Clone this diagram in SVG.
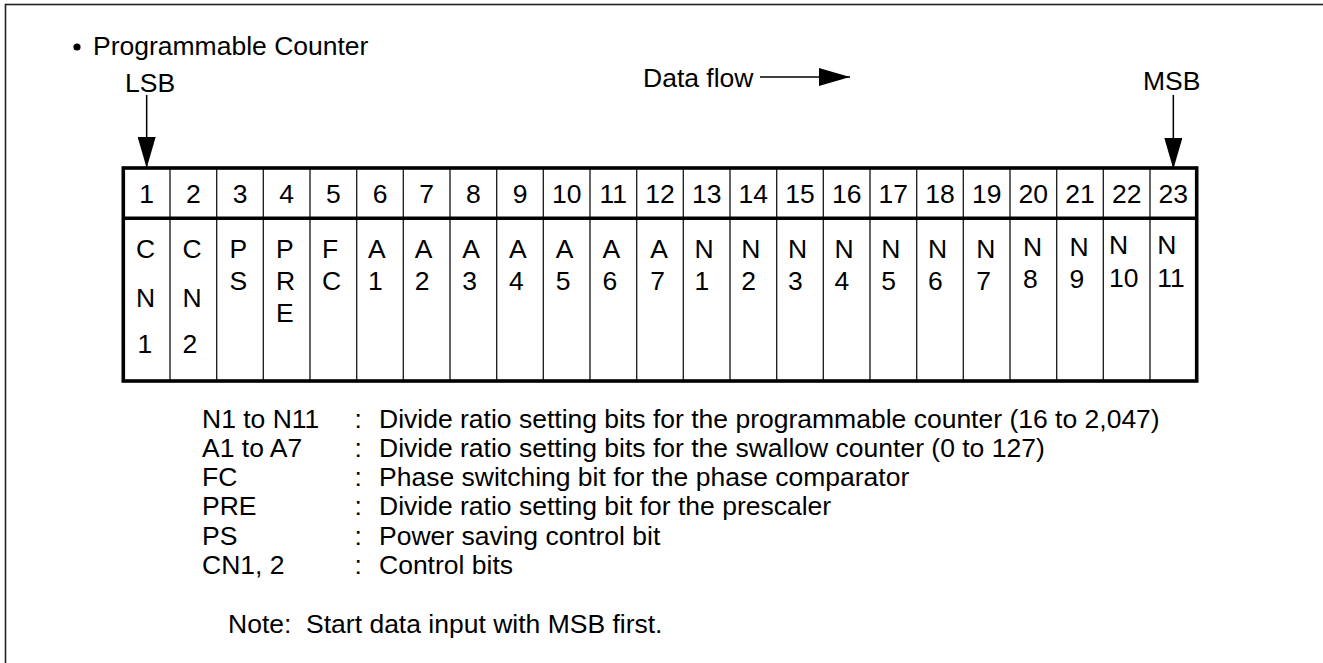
<svg xmlns="http://www.w3.org/2000/svg" width="1323" height="663" viewBox="0 0 1323 663">
<style>
text{font-family:"Liberation Sans",Arial,Helvetica,sans-serif;font-size:26.5px;fill:#000}
.hd{text-anchor:middle}
.frame{fill:none;stroke:#222;stroke-width:1.6}
.thick{fill:none;stroke:#000;stroke-width:3.6}
.thin{stroke:#222;stroke-width:1.4}
.conn{stroke:#000;stroke-width:1.5;fill:none}
</style>
<defs>
<marker id="ah" markerUnits="userSpaceOnUse" markerWidth="31" markerHeight="18" refX="31" refY="9" orient="auto">
<path d="M0,0 L31,9 L0,18 z" fill="#000"/>
</marker>
</defs>
<rect class="frame" x="5.5" y="4.5" width="1330" height="670"/>
<g id="title">
<circle cx="77" cy="47" r="3.6" fill="#000"/>
<text x="93" y="55">Programmable Counter</text>
</g>
<g id="lsb"><text x="125" y="92.3">LSB</text></g>
<g id="msb"><text x="1143" y="90">MSB</text></g>
<g id="dataflow"><text x="643" y="86.7">Data flow</text></g>
<g id="connectors">
<line class="conn" x1="146.67" y1="95" x2="146.67" y2="168" marker-end="url(#ah)"/>
<line class="conn" x1="1173.33" y1="95" x2="1173.33" y2="169" marker-end="url(#ah)"/>
<line class="conn" x1="760" y1="77" x2="850" y2="77" marker-end="url(#ah)"/>
</g>
<g id="grid">
<g class="thin">
<line x1="170" y1="168" x2="170" y2="381"/>
<line x1="216.67" y1="168" x2="216.67" y2="381"/>
<line x1="263.33" y1="168" x2="263.33" y2="381"/>
<line x1="310" y1="168" x2="310" y2="381"/>
<line x1="356.67" y1="168" x2="356.67" y2="381"/>
<line x1="403.33" y1="168" x2="403.33" y2="381"/>
<line x1="450" y1="168" x2="450" y2="381"/>
<line x1="496.67" y1="168" x2="496.67" y2="381"/>
<line x1="543.33" y1="168" x2="543.33" y2="381"/>
<line x1="590" y1="168" x2="590" y2="381"/>
<line x1="636.67" y1="168" x2="636.67" y2="381"/>
<line x1="683.33" y1="168" x2="683.33" y2="381"/>
<line x1="730" y1="168" x2="730" y2="381"/>
<line x1="776.67" y1="168" x2="776.67" y2="381"/>
<line x1="823.33" y1="168" x2="823.33" y2="381"/>
<line x1="870" y1="168" x2="870" y2="381"/>
<line x1="916.67" y1="168" x2="916.67" y2="381"/>
<line x1="963.33" y1="168" x2="963.33" y2="381"/>
<line x1="1010" y1="168" x2="1010" y2="381"/>
<line x1="1056.67" y1="168" x2="1056.67" y2="381"/>
<line x1="1103.33" y1="168" x2="1103.33" y2="381"/>
<line x1="1150" y1="168" x2="1150" y2="381"/>
</g>
<line class="thick" x1="123.3" y1="218.3" x2="1196.7" y2="218.3"/>
<rect class="thick" x="123.3" y="168" width="1073.4" height="213"/>
</g>
<g id="bit1"><text class="hd" x="146.67" y="203">1</text><text><tspan x="136" y="258">C</tspan><tspan x="136" y="306.5">N</tspan><tspan x="137.5" y="353.3">1</tspan></text></g>
<g id="bit2"><text class="hd" x="193.33" y="203">2</text><text><tspan x="182.5" y="258">C</tspan><tspan x="182.5" y="306.5">N</tspan><tspan x="182.5" y="353.3">2</tspan></text></g>
<g id="bit3"><text class="hd" x="240" y="203">3</text><text><tspan x="229.5" y="258">P</tspan><tspan x="229.5" y="290">S</tspan></text></g>
<g id="bit4"><text class="hd" x="286.67" y="203">4</text><text><tspan x="276" y="258">P</tspan><tspan x="276" y="290">R</tspan><tspan x="276" y="321.7">E</tspan></text></g>
<g id="bit5"><text class="hd" x="333.33" y="203">5</text><text><tspan x="322" y="258">F</tspan><tspan x="322" y="290">C</tspan></text></g>
<g id="bit6"><text class="hd" x="380" y="203">6</text><text><tspan x="368" y="258">A</tspan><tspan x="368" y="290">1</tspan></text></g>
<g id="bit7"><text class="hd" x="426.67" y="203">7</text><text><tspan x="414.7" y="258">A</tspan><tspan x="414.7" y="290">2</tspan></text></g>
<g id="bit8"><text class="hd" x="473.33" y="203">8</text><text><tspan x="462.3" y="258">A</tspan><tspan x="462.3" y="290">3</tspan></text></g>
<g id="bit9"><text class="hd" x="520" y="203">9</text><text><tspan x="509" y="258">A</tspan><tspan x="509" y="290">4</tspan></text></g>
<g id="bit10"><text class="hd" x="566.67" y="203">10</text><text><tspan x="555.7" y="258">A</tspan><tspan x="555.7" y="290">5</tspan></text></g>
<g id="bit11"><text class="hd" x="613.33" y="203">11</text><text><tspan x="602.5" y="258">A</tspan><tspan x="602.5" y="290">6</tspan></text></g>
<g id="bit12"><text class="hd" x="660" y="203">12</text><text><tspan x="650.3" y="258">A</tspan><tspan x="650.3" y="290">7</tspan></text></g>
<g id="bit13"><text class="hd" x="706.67" y="203">13</text><text><tspan x="694.5" y="258">N</tspan><tspan x="694.5" y="290">1</tspan></text></g>
<g id="bit14"><text class="hd" x="753.33" y="203">14</text><text><tspan x="741.2" y="258">N</tspan><tspan x="741.2" y="290">2</tspan></text></g>
<g id="bit15"><text class="hd" x="800" y="203">15</text><text><tspan x="787.9" y="258">N</tspan><tspan x="787.9" y="290">3</tspan></text></g>
<g id="bit16"><text class="hd" x="846.67" y="203">16</text><text><tspan x="834.5" y="258">N</tspan><tspan x="834.5" y="290">4</tspan></text></g>
<g id="bit17"><text class="hd" x="893.33" y="203">17</text><text><tspan x="881.2" y="258">N</tspan><tspan x="881.2" y="290">5</tspan></text></g>
<g id="bit18"><text class="hd" x="940" y="203">18</text><text><tspan x="927.9" y="258">N</tspan><tspan x="927.9" y="290">6</tspan></text></g>
<g id="bit19"><text class="hd" x="986.67" y="203">19</text><text><tspan x="976.2" y="258">N</tspan><tspan x="976.2" y="290">7</tspan></text></g>
<g id="bit20"><text class="hd" x="1033.33" y="203">20</text><text><tspan x="1022.9" y="255.7">N</tspan><tspan x="1022.9" y="287.7">8</tspan></text></g>
<g id="bit21"><text class="hd" x="1080" y="203">21</text><text><tspan x="1069.6" y="255.7">N</tspan><tspan x="1069.6" y="287.7">9</tspan></text></g>
<g id="bit22"><text class="hd" x="1126.67" y="203">22</text><text><tspan x="1109" y="254.3">N</tspan><tspan x="1109" y="286.7">10</tspan></text></g>
<g id="bit23"><text class="hd" x="1173.33" y="203">23</text><text><tspan x="1157.2" y="254.3">N</tspan><tspan x="1157.2" y="286.7">11</tspan></text></g>
<g id="legend">
<text x="202" y="427.7">N1 to N11</text>
<text x="354.5" y="427.7">:</text>
<text x="379" y="427.7">Divide ratio setting bits for the programmable counter (16 to 2,047)</text>
<text x="202" y="456.9">A1 to A7</text>
<text x="354.5" y="456.9">:</text>
<text x="379" y="456.9">Divide ratio setting bits for the swallow counter (0 to 127)</text>
<text x="202" y="486.1">FC</text>
<text x="354.5" y="486.1">:</text>
<text x="379" y="486.1">Phase switching bit for the phase comparator</text>
<text x="202" y="515.3">PRE</text>
<text x="354.5" y="515.3">:</text>
<text x="379" y="515.3">Divide ratio setting bit for the prescaler</text>
<text x="202" y="544.5">PS</text>
<text x="354.5" y="544.5">:</text>
<text x="379" y="544.5">Power saving control bit</text>
<text x="202" y="573.7">CN1, 2</text>
<text x="354.5" y="573.7">:</text>
<text x="379" y="573.7">Control bits</text>
</g>
<g id="note"><text x="228" y="633" xml:space="preserve">Note:  Start data input with MSB first.</text></g>
</svg>
